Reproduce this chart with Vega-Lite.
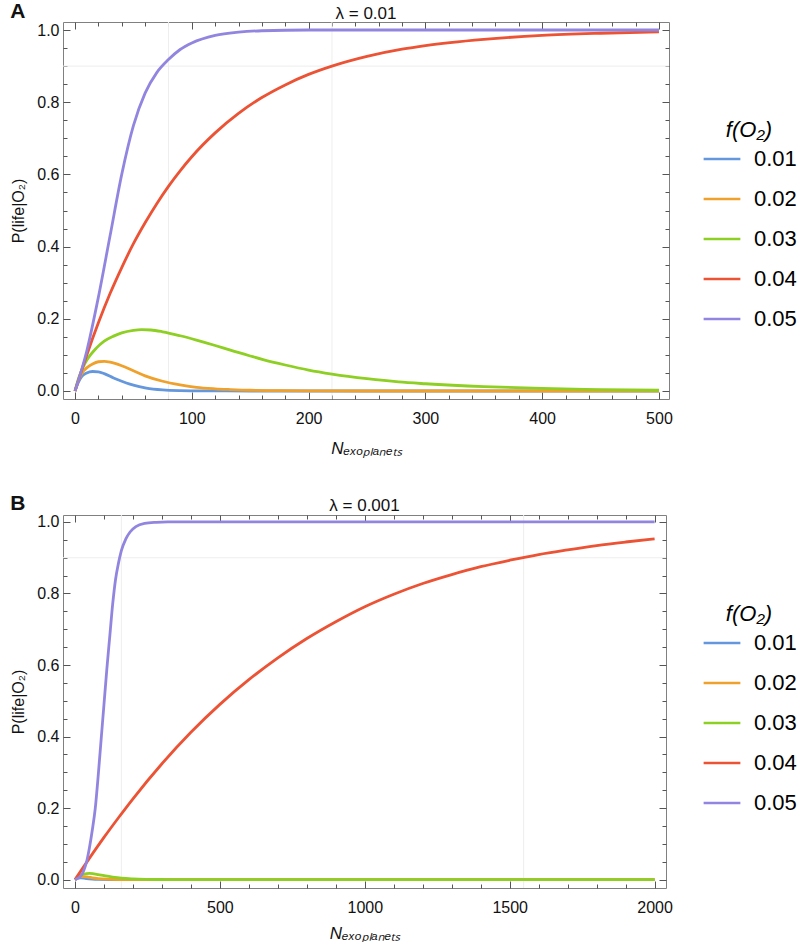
{
"$schema": "https://vega.github.io/schema/vega-lite/v6.json",
"padding": {"left": 10, "top": 1, "right": 0, "bottom": 0},
"datasets": {
"linesA": [
{"N":0,"P":0,"f":"0.01"},{"N":3,"P":0.025,"f":"0.01"},{"N":6,"P":0.041,"f":"0.01"},{"N":10,"P":0.05,"f":"0.01"},{"N":15,"P":0.054,"f":"0.01"},{"N":20,"P":0.053,"f":"0.01"},{"N":25,"P":0.048,"f":"0.01"},{"N":33,"P":0.036,"f":"0.01"},{"N":40,"P":0.027,"f":"0.01"},{"N":47,"P":0.019,"f":"0.01"},{"N":55,"P":0.012,"f":"0.01"},{"N":61,"P":0.008,"f":"0.01"},{"N":75,"P":0.003,"f":"0.01"},{"N":90,"P":0.001,"f":"0.01"},{"N":110,"P":0.0002,"f":"0.01"},{"N":150,"P":0,"f":"0.01"},{"N":200,"P":0,"f":"0.01"},{"N":300,"P":0,"f":"0.01"},{"N":400,"P":0,"f":"0.01"},{"N":500,"P":0,"f":"0.01"},
{"N":0,"P":0,"f":"0.02"},{"N":3,"P":0.03,"f":"0.02"},{"N":6,"P":0.05,"f":"0.02"},{"N":10,"P":0.064,"f":"0.02"},{"N":15,"P":0.075,"f":"0.02"},{"N":20,"P":0.081,"f":"0.02"},{"N":25,"P":0.082,"f":"0.02"},{"N":30,"P":0.08,"f":"0.02"},{"N":40,"P":0.07,"f":"0.02"},{"N":50,"P":0.056,"f":"0.02"},{"N":60,"P":0.042,"f":"0.02"},{"N":75,"P":0.027,"f":"0.02"},{"N":90,"P":0.017,"f":"0.02"},{"N":104,"P":0.01,"f":"0.02"},{"N":120,"P":0.006,"f":"0.02"},{"N":133,"P":0.004,"f":"0.02"},{"N":150,"P":0.002,"f":"0.02"},{"N":175,"P":0.001,"f":"0.02"},{"N":200,"P":0.0004,"f":"0.02"},{"N":250,"P":0,"f":"0.02"},{"N":300,"P":0,"f":"0.02"},{"N":400,"P":0,"f":"0.02"},{"N":500,"P":0,"f":"0.02"},
{"N":0,"P":0,"f":"0.03"},{"N":3,"P":0.035,"f":"0.03"},{"N":7,"P":0.067,"f":"0.03"},{"N":10,"P":0.085,"f":"0.03"},{"N":18,"P":0.118,"f":"0.03"},{"N":25,"P":0.138,"f":"0.03"},{"N":33,"P":0.152,"f":"0.03"},{"N":40,"P":0.161,"f":"0.03"},{"N":50,"P":0.168,"f":"0.03"},{"N":57,"P":0.17,"f":"0.03"},{"N":65,"P":0.169,"f":"0.03"},{"N":75,"P":0.164,"f":"0.03"},{"N":90,"P":0.153,"f":"0.03"},{"N":104,"P":0.141,"f":"0.03"},{"N":120,"P":0.126,"f":"0.03"},{"N":133,"P":0.113,"f":"0.03"},{"N":150,"P":0.097,"f":"0.03"},{"N":161,"P":0.087,"f":"0.03"},{"N":180,"P":0.072,"f":"0.03"},{"N":200,"P":0.058,"f":"0.03"},{"N":220,"P":0.047,"f":"0.03"},{"N":250,"P":0.034,"f":"0.03"},{"N":277,"P":0.025,"f":"0.03"},{"N":300,"P":0.02,"f":"0.03"},{"N":350,"P":0.012,"f":"0.03"},{"N":400,"P":0.007,"f":"0.03"},{"N":450,"P":0.004,"f":"0.03"},{"N":500,"P":0.002,"f":"0.03"},
{"N":0,"P":0,"f":"0.04"},{"N":10,"P":0.099,"f":"0.04"},{"N":20,"P":0.189,"f":"0.04"},{"N":30,"P":0.27,"f":"0.04"},{"N":40,"P":0.342,"f":"0.04"},{"N":50,"P":0.408,"f":"0.04"},{"N":60,"P":0.466,"f":"0.04"},{"N":70,"P":0.519,"f":"0.04"},{"N":80,"P":0.567,"f":"0.04"},{"N":90,"P":0.61,"f":"0.04"},{"N":100,"P":0.649,"f":"0.04"},{"N":120,"P":0.715,"f":"0.04"},{"N":140,"P":0.769,"f":"0.04"},{"N":160,"P":0.813,"f":"0.04"},{"N":180,"P":0.848,"f":"0.04"},{"N":200,"P":0.877,"f":"0.04"},{"N":220,"P":0.9,"f":"0.04"},{"N":250,"P":0.927,"f":"0.04"},{"N":280,"P":0.947,"f":"0.04"},{"N":300,"P":0.957,"f":"0.04"},{"N":350,"P":0.974,"f":"0.04"},{"N":400,"P":0.985,"f":"0.04"},{"N":450,"P":0.991,"f":"0.04"},{"N":500,"P":0.995,"f":"0.04"},
{"N":0,"P":0,"f":"0.05"},{"N":10,"P":0.11,"f":"0.05"},{"N":20,"P":0.26,"f":"0.05"},{"N":30,"P":0.43,"f":"0.05"},{"N":40,"P":0.6,"f":"0.05"},{"N":50,"P":0.735,"f":"0.05"},{"N":60,"P":0.825,"f":"0.05"},{"N":70,"P":0.882,"f":"0.05"},{"N":80,"P":0.918,"f":"0.05"},{"N":90,"P":0.946,"f":"0.05"},{"N":100,"P":0.964,"f":"0.05"},{"N":120,"P":0.985,"f":"0.05"},{"N":140,"P":0.994,"f":"0.05"},{"N":160,"P":0.998,"f":"0.05"},{"N":200,"P":1,"f":"0.05"},{"N":300,"P":1,"f":"0.05"},{"N":400,"P":1,"f":"0.05"},{"N":500,"P":1,"f":"0.05"}
],
"linesB": [
{"N":0,"P":0,"f":"0.01"},{"N":10,"P":0.004,"f":"0.01"},{"N":20,"P":0.005,"f":"0.01"},{"N":30,"P":0.0045,"f":"0.01"},{"N":40,"P":0.003,"f":"0.01"},{"N":60,"P":0.0012,"f":"0.01"},{"N":80,"P":0.0004,"f":"0.01"},{"N":120,"P":0,"f":"0.01"},{"N":200,"P":0,"f":"0.01"},{"N":500,"P":0,"f":"0.01"},{"N":1000,"P":0,"f":"0.01"},{"N":1500,"P":0,"f":"0.01"},{"N":2000,"P":0,"f":"0.01"},
{"N":0,"P":0,"f":"0.02"},{"N":10,"P":0.005,"f":"0.02"},{"N":20,"P":0.008,"f":"0.02"},{"N":30,"P":0.0085,"f":"0.02"},{"N":45,"P":0.007,"f":"0.02"},{"N":60,"P":0.005,"f":"0.02"},{"N":80,"P":0.003,"f":"0.02"},{"N":110,"P":0.0012,"f":"0.02"},{"N":150,"P":0.0003,"f":"0.02"},{"N":200,"P":0,"f":"0.02"},{"N":500,"P":0,"f":"0.02"},{"N":1000,"P":0,"f":"0.02"},{"N":1500,"P":0,"f":"0.02"},{"N":2000,"P":0,"f":"0.02"},
{"N":0,"P":0,"f":"0.03"},{"N":10,"P":0.008,"f":"0.03"},{"N":25,"P":0.014,"f":"0.03"},{"N":40,"P":0.017,"f":"0.03"},{"N":50,"P":0.0175,"f":"0.03"},{"N":65,"P":0.016,"f":"0.03"},{"N":80,"P":0.014,"f":"0.03"},{"N":100,"P":0.011,"f":"0.03"},{"N":130,"P":0.007,"f":"0.03"},{"N":160,"P":0.004,"f":"0.03"},{"N":200,"P":0.002,"f":"0.03"},{"N":250,"P":0.0008,"f":"0.03"},{"N":300,"P":0.0002,"f":"0.03"},{"N":400,"P":0,"f":"0.03"},{"N":1000,"P":0,"f":"0.03"},{"N":1500,"P":0,"f":"0.03"},{"N":2000,"P":0,"f":"0.03"},
{"N":0,"P":0,"f":"0.04"},{"N":50,"P":0.06,"f":"0.04"},{"N":100,"P":0.118,"f":"0.04"},{"N":150,"P":0.173,"f":"0.04"},{"N":200,"P":0.226,"f":"0.04"},{"N":300,"P":0.324,"f":"0.04"},{"N":400,"P":0.412,"f":"0.04"},{"N":500,"P":0.49,"f":"0.04"},{"N":600,"P":0.559,"f":"0.04"},{"N":700,"P":0.62,"f":"0.04"},{"N":800,"P":0.674,"f":"0.04"},{"N":900,"P":0.721,"f":"0.04"},{"N":1000,"P":0.763,"f":"0.04"},{"N":1100,"P":0.798,"f":"0.04"},{"N":1200,"P":0.828,"f":"0.04"},{"N":1300,"P":0.853,"f":"0.04"},{"N":1400,"P":0.875,"f":"0.04"},{"N":1500,"P":0.893,"f":"0.04"},{"N":1600,"P":0.909,"f":"0.04"},{"N":1700,"P":0.922,"f":"0.04"},{"N":1800,"P":0.934,"f":"0.04"},{"N":1900,"P":0.944,"f":"0.04"},{"N":2000,"P":0.953,"f":"0.04"},
{"N":0,"P":0,"f":"0.05"},{"N":20,"P":0.01,"f":"0.05"},{"N":30,"P":0.025,"f":"0.05"},{"N":40,"P":0.05,"f":"0.05"},{"N":50,"P":0.09,"f":"0.05"},{"N":60,"P":0.14,"f":"0.05"},{"N":70,"P":0.2,"f":"0.05"},{"N":80,"P":0.29,"f":"0.05"},{"N":90,"P":0.39,"f":"0.05"},{"N":100,"P":0.49,"f":"0.05"},{"N":110,"P":0.59,"f":"0.05"},{"N":120,"P":0.68,"f":"0.05"},{"N":130,"P":0.77,"f":"0.05"},{"N":140,"P":0.84,"f":"0.05"},{"N":150,"P":0.885,"f":"0.05"},{"N":160,"P":0.92,"f":"0.05"},{"N":175,"P":0.952,"f":"0.05"},{"N":190,"P":0.972,"f":"0.05"},{"N":210,"P":0.987,"f":"0.05"},{"N":240,"P":0.996,"f":"0.05"},{"N":280,"P":0.999,"f":"0.05"},{"N":320,"P":1,"f":"0.05"},{"N":500,"P":1,"f":"0.05"},{"N":1000,"P":1,"f":"0.05"},{"N":1500,"P":1,"f":"0.05"},{"N":2000,"P":1,"f":"0.05"}
],
"gridAx": [{"gx":80},{"gx":220}],
"gridBx": [{"gx":160},{"gx":1548}],
"gridY": [{"gy":0.9}]
},
"config": {
"font": "Liberation Sans",
"view": {"stroke": "#808080", "strokeWidth": 1},
"axis": {"domain": false, "grid": false, "labelFont": "Liberation Sans", "labelFontSize": 16, "labelColor": "#111111", "titleFont": "Liberation Sans", "titleFontWeight": "normal", "titleColor": "#111111", "tickColor": "#555555", "tickWidth": 1},
"title": {"font": "Liberation Sans", "color": "#111111"}
},
"spacing": 36,
"resolve": {"legend": {"color": "independent"}, "scale": {"color": "independent"}},
"vconcat": [
{
"title": {"text": "A", "anchor": "start", "fontSize": 21, "fontWeight": "bold", "offset": -18},
"vconcat": [
{
"width": 606, "height": 377,
"title": {"text": "λ = 0.01", "fontSize": 17, "fontWeight": "normal", "frame": "group", "anchor": "middle", "offset": -1},
"resolve": {"axis": {"x": "independent", "y": "independent"}},
"layer": [
{"data": {"name": "gridAx"}, "mark": {"type": "rule", "color": "#eeeeee", "strokeWidth": 1},
 "encoding": {"x": {"field": "gx", "type": "quantitative", "scale": {"domain": [-10.3, 508.6], "nice": false, "zero": false}, "axis": null}}},
{"data": {"name": "gridY"}, "mark": {"type": "rule", "color": "#eeeeee", "strokeWidth": 1},
 "encoding": {"y": {"field": "gy", "type": "quantitative", "scale": {"domain": [-0.0222, 1.0222], "nice": false, "zero": false}, "axis": null}}},
{"data": {"name": "linesA"}, "mark": {"type": "line", "strokeWidth": 2.8, "interpolate": "monotone"},
 "encoding": {
  "x": {"field": "N", "type": "quantitative", "scale": {"domain": [-10.3, 508.6], "nice": false, "zero": false},
        "axis": {"orient": "bottom", "ticks": false, "values": [0,100,200,300,400,500], "format": "d", "labelPadding": 11, "title": "Nₑₓₒₚₗₐₙₑₜₛ", "titleFontSize": 17, "titleFontStyle": "italic", "titlePadding": 14}},
  "y": {"field": "P", "type": "quantitative", "scale": {"domain": [-0.0222, 1.0222], "nice": false, "zero": false},
        "axis": {"orient": "left", "ticks": false, "values": [0,0.2,0.4,0.6,0.8,1.0], "format": ".1f", "labelPadding": 4, "title": "P(life|O₂)", "titleFontSize": 16, "titlePadding": 10}},
  "color": {"field": "f", "type": "nominal",
   "scale": {"domain": ["0.01","0.02","0.03","0.04","0.05"], "range": ["#6497dc","#efa12c","#8dcf22","#ec5234","#9185e0"]},
   "legend": {"orient": "none", "legendX": 639, "legendY": 98, "title": "f(O₂)", "titleFontSize": 22, "titleFontStyle": "italic", "titleFontWeight": "normal", "titleAnchor": "middle", "titleAlign": "center", "titlePadding": -3, "labelFontSize": 22, "symbolType": "stroke", "symbolSize": 1350, "symbolStrokeWidth": 2.5, "rowPadding": 9, "labelOffset": 12}}
 }},
{"data": {"name": "linesA"}, "mark": {"type": "point", "opacity": 0},
 "encoding": {
  "x": {"field": "N", "type": "quantitative", "scale": {"domain": [-10.3, 508.6], "nice": false, "zero": false},
        "axis": {"orient": "bottom", "labels": false, "title": null, "values": [0,100,200,300,400,500], "tickSize": -7}},
  "y": {"field": "P", "type": "quantitative", "scale": {"domain": [-0.0222, 1.0222], "nice": false, "zero": false},
        "axis": {"orient": "left", "labels": false, "title": null, "values": [0,0.2,0.4,0.6,0.8,1.0], "tickSize": -7}}
 }},
{"data": {"name": "linesA"}, "mark": {"type": "point", "opacity": 0},
 "encoding": {
  "x": {"field": "N", "type": "quantitative", "scale": {"domain": [-10.3, 508.6], "nice": false, "zero": false},
        "axis": {"orient": "bottom", "labels": false, "title": null, "values": [20,40,60,80,120,140,160,180,220,240,260,280,320,340,360,380,420,440,460,480], "tickSize": -4}},
  "y": {"field": "P", "type": "quantitative", "scale": {"domain": [-0.0222, 1.0222], "nice": false, "zero": false},
        "axis": {"orient": "left", "labels": false, "title": null, "values": [0.05,0.1,0.15,0.25,0.3,0.35,0.45,0.5,0.55,0.65,0.7,0.75,0.85,0.9,0.95], "tickSize": -4}}
 }},
{"data": {"name": "linesA"}, "mark": {"type": "point", "opacity": 0},
 "encoding": {
  "x": {"field": "N", "type": "quantitative", "scale": {"domain": [-10.3, 508.6], "nice": false, "zero": false},
        "axis": {"orient": "top", "labels": false, "title": null, "values": [0,100,200,300,400,500], "tickSize": -7}},
  "y": {"field": "P", "type": "quantitative", "scale": {"domain": [-0.0222, 1.0222], "nice": false, "zero": false},
        "axis": {"orient": "right", "labels": false, "title": null, "values": [0,0.2,0.4,0.6,0.8,1.0], "tickSize": -7}}
 }},
{"data": {"name": "linesA"}, "mark": {"type": "point", "opacity": 0},
 "encoding": {
  "x": {"field": "N", "type": "quantitative", "scale": {"domain": [-10.3, 508.6], "nice": false, "zero": false},
        "axis": {"orient": "top", "labels": false, "title": null, "values": [20,40,60,80,120,140,160,180,220,240,260,280,320,340,360,380,420,440,460,480], "tickSize": -4}},
  "y": {"field": "P", "type": "quantitative", "scale": {"domain": [-0.0222, 1.0222], "nice": false, "zero": false},
        "axis": {"orient": "right", "labels": false, "title": null, "values": [0.05,0.1,0.15,0.25,0.3,0.35,0.45,0.5,0.55,0.65,0.7,0.75,0.85,0.9,0.95], "tickSize": -4}}
 }}
]
}
]
},
{
"title": {"text": "B", "anchor": "start", "fontSize": 21, "fontWeight": "bold", "offset": -18},
"vconcat": [
{
"width": 603, "height": 373,
"title": {"text": "λ = 0.001", "fontSize": 17, "fontWeight": "normal", "frame": "group", "anchor": "middle", "offset": -1},
"resolve": {"axis": {"x": "independent", "y": "independent"}},
"layer": [
{"data": {"name": "gridBx"}, "mark": {"type": "rule", "color": "#eeeeee", "strokeWidth": 1},
 "encoding": {"x": {"field": "gx", "type": "quantitative", "scale": {"domain": [-41.4, 2039.3], "nice": false, "zero": false}, "axis": null}}},
{"data": {"name": "gridY"}, "mark": {"type": "rule", "color": "#eeeeee", "strokeWidth": 1},
 "encoding": {"y": {"field": "gy", "type": "quantitative", "scale": {"domain": [-0.0235, 1.0195], "nice": false, "zero": false}, "axis": null}}},
{"data": {"name": "linesB"}, "mark": {"type": "line", "strokeWidth": 2.8, "interpolate": "monotone"},
 "encoding": {
  "x": {"field": "N", "type": "quantitative", "scale": {"domain": [-41.4, 2039.3], "nice": false, "zero": false},
        "axis": {"orient": "bottom", "ticks": false, "values": [0,500,1000,1500,2000], "format": "d", "labelPadding": 11, "title": "Nₑₓₒₚₗₐₙₑₜₛ", "titleFontSize": 17, "titleFontStyle": "italic", "titlePadding": 10}},
  "y": {"field": "P", "type": "quantitative", "scale": {"domain": [-0.0235, 1.0195], "nice": false, "zero": false},
        "axis": {"orient": "left", "ticks": false, "values": [0,0.2,0.4,0.6,0.8,1.0], "format": ".1f", "labelPadding": 4, "title": "P(life|O₂)", "titleFontSize": 16, "titlePadding": 10}},
  "color": {"field": "f", "type": "nominal",
   "scale": {"domain": ["0.01","0.02","0.03","0.04","0.05"], "range": ["#6497dc","#efa12c","#8dcf22","#ec5234","#9185e0"]},
   "legend": {"orient": "none", "legendX": 639, "legendY": 89, "title": "f(O₂)", "titleFontSize": 22, "titleFontStyle": "italic", "titleFontWeight": "normal", "titleAnchor": "middle", "titleAlign": "center", "titlePadding": -3, "labelFontSize": 22, "symbolType": "stroke", "symbolSize": 1350, "symbolStrokeWidth": 2.5, "rowPadding": 9, "labelOffset": 12}}
 }},
{"data": {"name": "linesB"}, "mark": {"type": "point", "opacity": 0},
 "encoding": {
  "x": {"field": "N", "type": "quantitative", "scale": {"domain": [-41.4, 2039.3], "nice": false, "zero": false},
        "axis": {"orient": "bottom", "labels": false, "title": null, "values": [0,500,1000,1500,2000], "tickSize": -7}},
  "y": {"field": "P", "type": "quantitative", "scale": {"domain": [-0.0235, 1.0195], "nice": false, "zero": false},
        "axis": {"orient": "left", "labels": false, "title": null, "values": [0,0.2,0.4,0.6,0.8,1.0], "tickSize": -7}}
 }},
{"data": {"name": "linesB"}, "mark": {"type": "point", "opacity": 0},
 "encoding": {
  "x": {"field": "N", "type": "quantitative", "scale": {"domain": [-41.4, 2039.3], "nice": false, "zero": false},
        "axis": {"orient": "bottom", "labels": false, "title": null, "values": [100,200,300,400,600,700,800,900,1100,1200,1300,1400,1600,1700,1800,1900], "tickSize": -4}},
  "y": {"field": "P", "type": "quantitative", "scale": {"domain": [-0.0235, 1.0195], "nice": false, "zero": false},
        "axis": {"orient": "left", "labels": false, "title": null, "values": [0.05,0.1,0.15,0.25,0.3,0.35,0.45,0.5,0.55,0.65,0.7,0.75,0.85,0.9,0.95], "tickSize": -4}}
 }},
{"data": {"name": "linesB"}, "mark": {"type": "point", "opacity": 0},
 "encoding": {
  "x": {"field": "N", "type": "quantitative", "scale": {"domain": [-41.4, 2039.3], "nice": false, "zero": false},
        "axis": {"orient": "top", "labels": false, "title": null, "values": [0,500,1000,1500,2000], "tickSize": -7}},
  "y": {"field": "P", "type": "quantitative", "scale": {"domain": [-0.0235, 1.0195], "nice": false, "zero": false},
        "axis": {"orient": "right", "labels": false, "title": null, "values": [0,0.2,0.4,0.6,0.8,1.0], "tickSize": -7}}
 }},
{"data": {"name": "linesB"}, "mark": {"type": "point", "opacity": 0},
 "encoding": {
  "x": {"field": "N", "type": "quantitative", "scale": {"domain": [-41.4, 2039.3], "nice": false, "zero": false},
        "axis": {"orient": "top", "labels": false, "title": null, "values": [100,200,300,400,600,700,800,900,1100,1200,1300,1400,1600,1700,1800,1900], "tickSize": -4}},
  "y": {"field": "P", "type": "quantitative", "scale": {"domain": [-0.0235, 1.0195], "nice": false, "zero": false},
        "axis": {"orient": "right", "labels": false, "title": null, "values": [0.05,0.1,0.15,0.25,0.3,0.35,0.45,0.5,0.55,0.65,0.7,0.75,0.85,0.9,0.95], "tickSize": -4}}
 }}
]
}
]
}
]
}
